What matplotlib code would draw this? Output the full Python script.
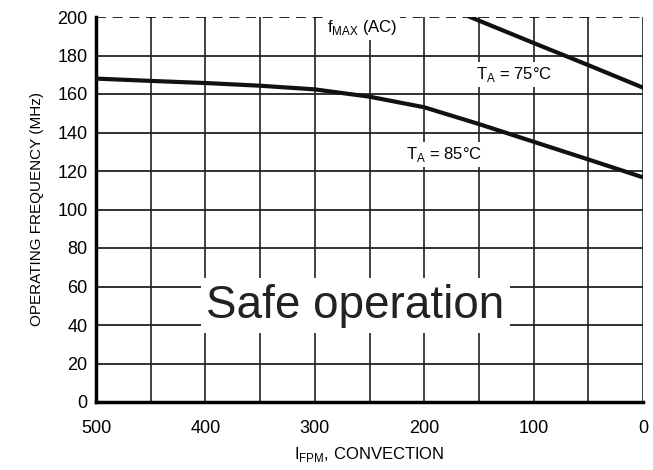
import matplotlib.pyplot as plt
import numpy as np

plt.rcParams['font.family'] = ['Liberation Sans Narrow', 'Liberation Sans', 'DejaVu Sans']

# airflow (LFPM) and operating frequency (MHz)
flow_85 = [500, 450, 400, 350, 300, 250, 200, 150, 100, 50, 0]
freq_85 = [168, 166.8, 165.7, 164.3, 162.4, 158.6, 153.1, 144.4, 135.2, 126, 116.7]
flow_75 = [158, 100, 50, 0]
freq_75 = [200, 186.5, 175, 163.3]
fmax = 200

xticks = [500, 400, 300, 200, 100, 0]
yticks = list(range(0, 201, 20))

fig = plt.figure(figsize=(6.53, 4.70), dpi=100)
ax = fig.add_axes([96/653, 1 - 402/470, 547/653, 385/470])

ax.set_xlim(500, 0)
ax.set_ylim(0, 200)

for x in range(0, 501, 50):
    ax.axvline(x, color='#333333', lw=1.3, zorder=1)
for y in yticks[:-1]:
    ax.axhline(y, color='#222222', lw=1.3, zorder=1)
ax.axhline(fmax, color='black', lw=1.2, ls=(0, (6, 4)), zorder=2)

ax.plot(flow_85, freq_85, color='#111111', lw=3, zorder=3)
ax.plot(flow_75, freq_75, color='#111111', lw=3, zorder=3)

box = dict(facecolor='white', edgecolor='none', pad=2)
ax.text(257, 194.5, r'f$_{\mathregular{MAX}}$ (AC)', fontsize=12, ha='center', va='center', bbox=box, zorder=4)
ax.text(118, 170, r'T$_{\mathregular{A}}$ = 75°C', fontsize=12, ha='center', va='center', bbox=box, zorder=4)
ax.text(182, 128.5, r'T$_{\mathregular{A}}$ = 85°C', fontsize=12, ha='center', va='center', bbox=box, zorder=4)
ax.text(263, 50, 'Safe operation', fontsize=33, family=['Liberation Sans', 'DejaVu Sans'],
        ha='center', va='center', color='#222222',
        bbox=dict(facecolor='white', edgecolor='none', pad=4), zorder=4)

ax.set_xticks(xticks)
ax.set_yticks(yticks)
ax.tick_params(length=0, labelsize=13)
ax.tick_params(axis='x', pad=13)
ax.tick_params(axis='y', pad=6)
ax.set_xticklabels([str(v) for v in xticks])

for s in ['top', 'right']:
    ax.spines[s].set_visible(False)
ax.spines['left'].set_linewidth(2.5)
ax.spines['bottom'].set_linewidth(2.5)

ax.set_ylabel('OPERATING FREQUENCY (MHz)', fontsize=11, labelpad=10)
ax.set_xlabel(r'I$_{\mathregular{FPM}}$, CONVECTION', fontsize=12, labelpad=6)

fig.savefig('out.png', dpi=100)
